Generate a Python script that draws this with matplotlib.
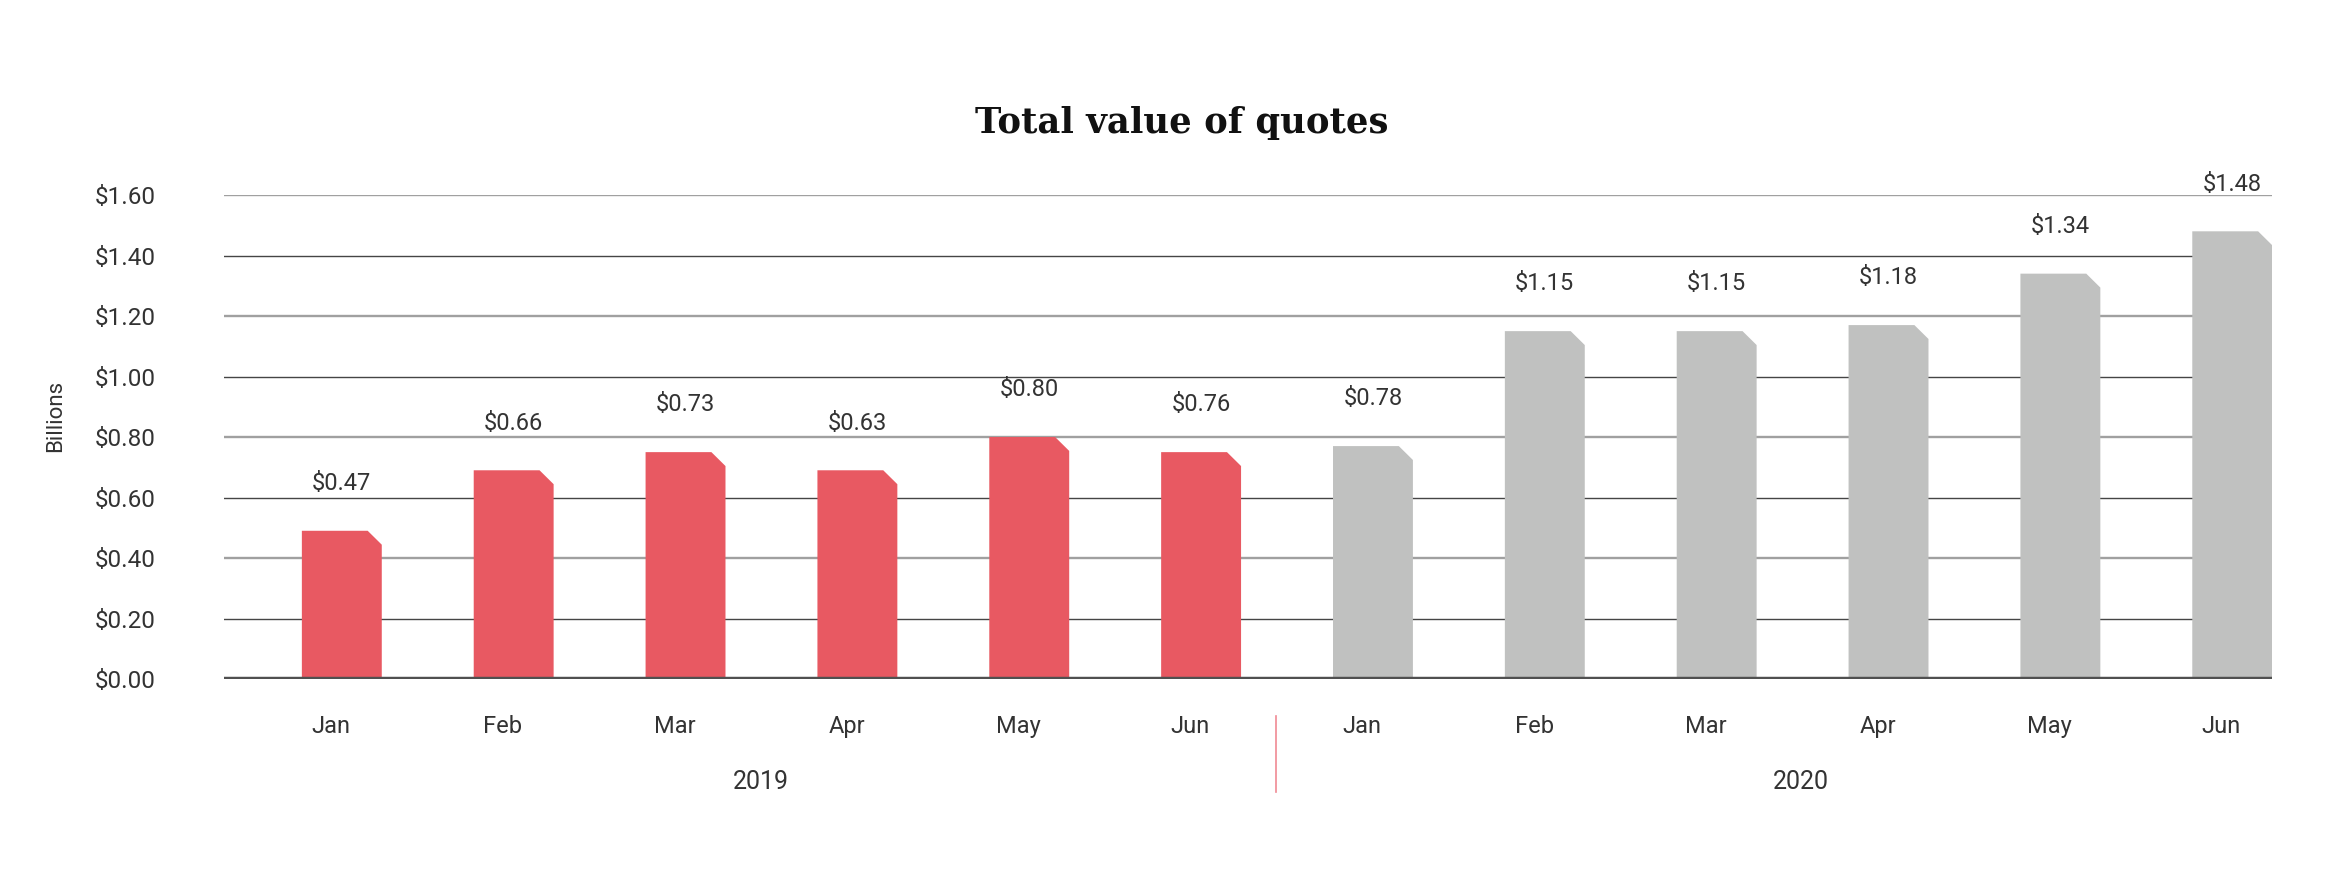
import matplotlib.pyplot as plt
import matplotlib.transforms as mtransforms
from matplotlib.patches import Polygon
from matplotlib.lines import Line2D

plt.rcParams['font.family'] = ['Roboto', 'DejaVu Sans']

# data
months = ['Jan', 'Feb', 'Mar', 'Apr', 'May', 'Jun', 'Jan', 'Feb', 'Mar', 'Apr', 'May', 'Jun']
years = ['2019', '2020']
bar_heights = [0.49, 0.69, 0.75, 0.69, 0.80, 0.75, 0.77, 1.15, 1.15, 1.17, 1.34, 1.48]
value_labels = [0.47, 0.66, 0.73, 0.63, 0.80, 0.76, 0.78, 1.15, 1.15, 1.18, 1.34, 1.48]
yticks = [0.0, 0.2, 0.4, 0.6, 0.8, 1.0, 1.2, 1.4, 1.6]

red = '#e85962'
grey = '#c0c1c0'
txt = '#333333'
fw = 'normal'

fig = plt.figure(figsize=(23.31, 8.8), dpi=100)
fig.patch.set_facecolor('white')
ax = fig.add_axes([0.0961, 0.2284, 0.8786, 0.55])

ax.set_xlim(-0.623, 11.294)
ax.set_ylim(0, 1.6)

# gridlines, alternating light / dark
for t in yticks[1:]:
    k = int(round(t / 0.2))
    if k % 2 == 0:
        ax.axhline(t, color='#a0a0a0', lw=1.7, zorder=1)
    else:
        ax.axhline(t, color='#454545', lw=1.0, zorder=1)

# bars with clipped top-right corner
left_off, right_off = -0.17, 0.295
cut_x, cut_y = 0.082, 0.046
for i, h in enumerate(bar_heights):
    c = red if i < 6 else grey
    l = i + left_off
    r = i + right_off
    pts = [(l, 0), (l, h), (r - cut_x, h), (r, h - cut_y), (r, 0)]
    ax.add_patch(Polygon(pts, closed=True, facecolor=c, edgecolor='none', zorder=2))
    ax.annotate(f'${value_labels[i]:.2f}', xy=((l + r) / 2, h), xytext=(0, 34),
                textcoords='offset points', ha='center', va='center',
                fontsize=17, fontweight=fw, color=txt, annotation_clip=False)

ax.axhline(0, color='#505050', lw=3.2, zorder=3)

for s in ax.spines.values():
    s.set_visible(False)

ax.set_yticks(yticks)
ax.set_yticklabels([f'${v:.2f}' for v in yticks], fontsize=17.5, fontweight=fw, color=txt)
ax.set_xticks(range(len(months)))
ax.set_xticklabels(months, fontsize=17, fontweight=fw, color=txt)
ax.tick_params(axis='y', length=0, pad=49)
ax.tick_params(axis='x', length=0, pad=26)

# year group labels + separator
trans = mtransforms.blended_transform_factory(ax.transData, fig.transFigure)
ax.text(2.5, 0.111, years[0], transform=trans, ha='center', va='center',
        fontsize=18, fontweight=fw, color=txt)
ax.text(8.55, 0.111, years[1], transform=trans, ha='center', va='center',
        fontsize=18, fontweight=fw, color=txt)
ax.add_line(Line2D([5.5, 5.5], [0.1864, 0.10], transform=trans, color='#f08a94',
                   lw=1.2, clip_on=False))

fig.text(0.024, 0.527, 'Billions', rotation=90, ha='center', va='center',
         fontsize=16, fontweight=fw, color=txt)
fig.text(0.507, 0.86, 'Total value of quotes', ha='center', va='center',
         fontsize=25.5, fontweight='bold', family='DejaVu Serif', color='#111111')

fig.savefig('out.png', dpi=100)
